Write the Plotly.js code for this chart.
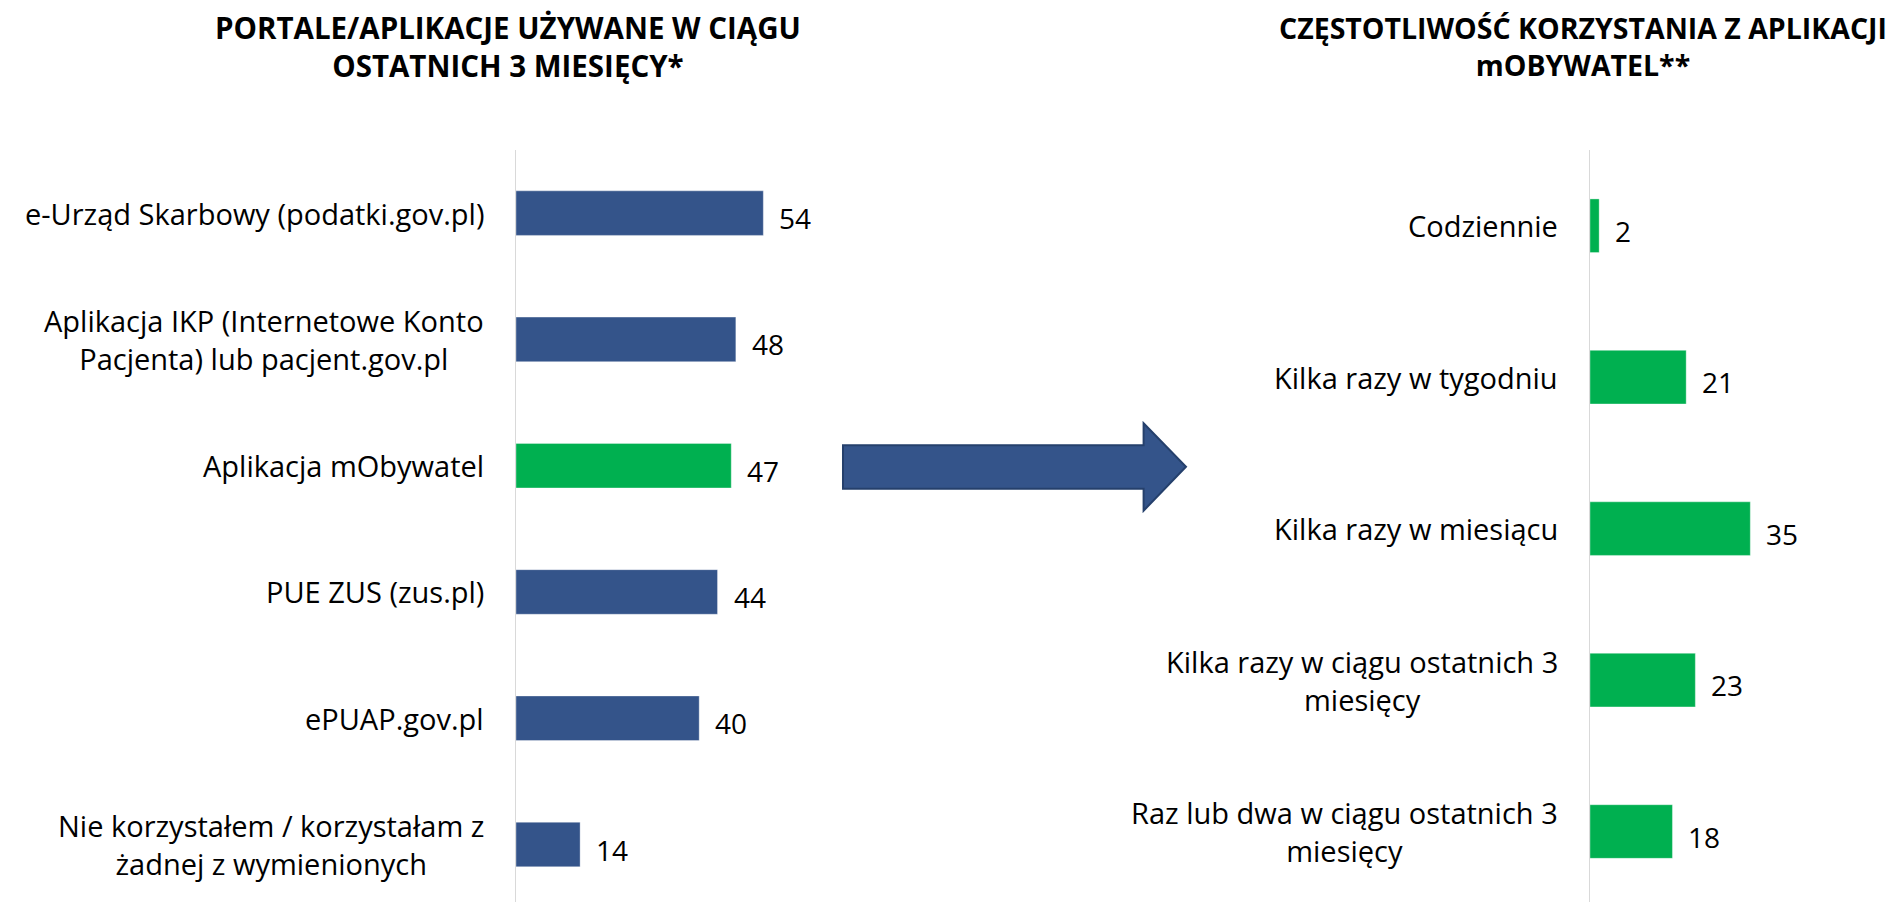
<!DOCTYPE html>
<html>
<head>
<meta charset="utf-8">
<script src="https://cdn.plot.ly/plotly-3.0.1.min.js"></script>
<style>
  html, body { margin: 0; padding: 0; background: #fff; }
  #chart { width: 1895px; height: 902px; }
</style>
</head>
<body>
<div id="chart"></div>
<script>
// ---- data ----
const leftTitle = 'PORTALE/APLIKACJE UŻYWANE W CIĄGU<br>OSTATNICH 3 MIESIĘCY*';
const leftCategories = [
  'e-Urząd Skarbowy (podatki.gov.pl)',
  'Aplikacja IKP (Internetowe Konto<br>Pacjenta) lub pacjent.gov.pl',
  'Aplikacja mObywatel',
  'PUE ZUS (zus.pl)',
  'ePUAP.gov.pl',
  'Nie korzystałem / korzystałam z<br>żadnej z wymienionych'
];
const leftValues = [54, 48, 47, 44, 40, 14];
const highlightedCategory = 'Aplikacja mObywatel';

const rightTitle = 'CZĘSTOTLIWOŚĆ KORZYSTANIA Z APLIKACJI<br>mOBYWATEL**';
const rightCategories = [
  'Codziennie',
  'Kilka razy w tygodniu',
  'Kilka razy w miesiącu',
  'Kilka razy w ciągu ostatnich 3<br>miesięcy',
  'Raz lub dwa w ciągu ostatnich 3<br>miesięcy'
];
const rightValues = [2, 21, 35, 23, 18];

// ---- styling / layout ----
const W = 1895, H = 902;
const NAVY = '#34548a';
const GREEN = '#00b050';
const FONT = '"Open Sans", Lato, sans-serif';
const FS = 29;
const px = x => x / W;
const py = y => 1 - y / H;

const leftColors = leftCategories.map(c => c === highlightedCategory ? GREEN : NAVY);

const traces = [
  {
    type: 'bar', orientation: 'h',
    x: leftValues, y: leftCategories,
    xaxis: 'x', yaxis: 'y',
    width: 0.353,
    marker: { color: leftColors, line: { color: 'rgba(255,255,255,0.35)', width: 1 } },
    hoverinfo: 'skip'
  },
  {
    type: 'bar', orientation: 'h',
    x: rightValues, y: rightCategories,
    xaxis: 'x2', yaxis: 'y2',
    width: 0.354,
    marker: { color: GREEN, line: { color: 'rgba(255,255,255,0.35)', width: 1 } },
    hoverinfo: 'skip'
  }
];

const PXU = 4.58; // pixels per unit
const lx0 = 516, lx1 = 850;
const rx0 = 1590, rx1 = 1895;

const annotations = [];
function addLabels(cats, vals, xr, yr) {
  cats.forEach((c, i) => {
    annotations.push({
      xref: xr, yref: yr, x: 0, y: i, text: c,
      xanchor: 'right', yanchor: 'middle', align: 'center',
      xshift: -30, showarrow: false,
      font: { family: FONT, size: FS, color: '#000' }
    });
    annotations.push({
      xref: xr, yref: yr, x: vals[i], y: i, text: String(vals[i]),
      xanchor: 'left', yanchor: 'middle',
      xshift: 14, yshift: -5, showarrow: false,
      font: { family: FONT, size: 28, color: '#000' }
    });
  });
}
addLabels(leftCategories, leftValues, 'x', 'y');
addLabels(rightCategories, rightValues, 'x2', 'y2');

annotations.push({
  xref: 'paper', yref: 'paper', x: px(508), y: py(46),
  xanchor: 'center', yanchor: 'middle', align: 'center',
  text: '<b>' + leftTitle + '</b>', showarrow: false,
  font: { family: FONT, size: 29.5, color: '#000' }
});
annotations.push({
  xref: 'paper', yref: 'paper', x: px(1583), y: py(46),
  xanchor: 'center', yanchor: 'middle', align: 'center',
  text: '<b>' + rightTitle + '</b>', showarrow: false,
  font: { family: FONT, size: 28.5, color: '#000' }
});

// block arrow
const ar = [[843,445.3],[1143.6,445.3],[1143.6,423.3],[1186,466.7],[1143.6,510.7],[1143.6,488.7],[843,488.7]];
const arrowPath = 'M ' + ar.map(p => px(p[0]).toFixed(5) + ' ' + py(p[1]).toFixed(5)).join(' L ') + ' Z';

const yAxisCommon = {
  type: 'category', showgrid: false, zeroline: false,
  showticklabels: false, ticks: '',
  showline: true, linecolor: '#d9d9d9', linewidth: 1.5
};
const xAxisCommon = {
  showgrid: false, zeroline: false, showticklabels: false, ticks: '', showline: false, fixedrange: true
};

const layout = {
  width: W, height: H,
  margin: { l: 0, r: 0, t: 0, b: 0 },
  paper_bgcolor: '#fff', plot_bgcolor: 'rgba(0,0,0,0)',
  showlegend: false,
  font: { family: FONT, size: FS, color: '#000' },
  xaxis: Object.assign({}, xAxisCommon, { domain: [px(lx0), px(lx1)], range: [0, (lx1 - lx0) / PXU], anchor: 'y' }),
  yaxis: Object.assign({}, yAxisCommon, { domain: [0, py(150)], range: [(902 - 213) / 126.3, -0.5], anchor: 'x' }),
  xaxis2: Object.assign({}, xAxisCommon, { domain: [px(rx0), px(rx1)], range: [0, (rx1 - rx0) / PXU], anchor: 'y2' }),
  yaxis2: Object.assign({}, yAxisCommon, { domain: [0, py(150)], range: [(902 - 225.5) / 151.5, -0.5], anchor: 'x2' }),
  annotations: annotations,
  shapes: [{
    type: 'path', xref: 'paper', yref: 'paper', path: arrowPath,
    fillcolor: NAVY, line: { color: '#25406c', width: 2 }, layer: 'above'
  }]
};

Plotly.newPlot('chart', traces, layout, { displayModeBar: false, staticPlot: true });
</script>
</body>
</html>
